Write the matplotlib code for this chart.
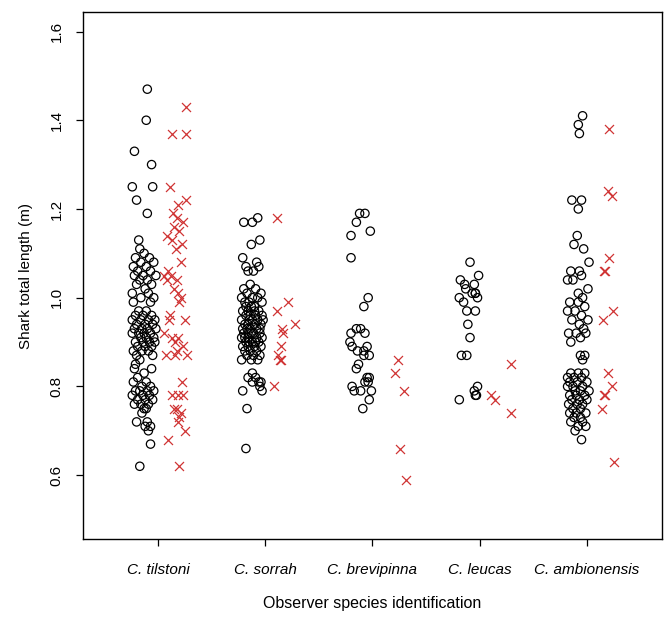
import matplotlib
matplotlib.use('Agg')
import matplotlib.pyplot as plt

#categories
species = ['C. tilstoni', 'C. sorrah', 'C. brevipinna', 'C. leucas', 'C. ambionensis']

#black circles, lengths (m) and jitter (category units)
tilstoni_black = [1.47, 1.40, 1.33, 1.30, 1.25, 1.25, 1.22, 1.19, 1.13, 1.11,
                  1.10, 1.09, 1.09, 1.08, 1.08, 1.07, 1.07, 1.06, 1.06, 1.05,
                  1.05, 1.05, 1.04, 1.04, 1.03, 1.03, 1.02, 1.01, 1.01, 1.00,
                  1.00, 0.99, 0.99, 0.97, 0.97, 0.96, 0.96, 0.96, 0.95, 0.95,
                  0.95, 0.95, 0.94, 0.94, 0.94, 0.93, 0.93, 0.93, 0.93, 0.92,
                  0.92, 0.92, 0.92, 0.91, 0.91, 0.91, 0.90, 0.90, 0.90, 0.90,
                  0.89, 0.89, 0.89, 0.88, 0.88, 0.88, 0.87, 0.87, 0.86, 0.85,
                  0.84, 0.84, 0.83, 0.82, 0.81, 0.81, 0.80, 0.80, 0.79, 0.79,
                  0.79, 0.79, 0.78, 0.78, 0.78, 0.77, 0.77, 0.77, 0.76, 0.76,
                  0.76, 0.75, 0.75, 0.74, 0.72, 0.72, 0.71, 0.71, 0.70, 0.67,
                  0.62]
tilstoni_black_dx = [-0.10, -0.11, -0.22, -0.06, -0.24, -0.05, -0.20, -0.10, -0.18, -0.17,
                     -0.13, -0.21, -0.08, -0.16, -0.04, -0.23, -0.11, -0.19, -0.07, -0.14,
                     -0.02, -0.22, -0.10, -0.17, -0.06, -0.20, -0.12, -0.24, -0.09, -0.16,
                     -0.04, -0.23, -0.07, -0.18, -0.11, -0.21, -0.14, -0.06, -0.24, -0.16,
                     -0.09, -0.03, -0.20, -0.12, -0.05, -0.22, -0.15, -0.10, -0.02, -0.18,
                     -0.13, -0.07, -0.24, -0.16, -0.11, -0.04, -0.21, -0.14, -0.08, -0.03,
                     -0.19, -0.12, -0.06, -0.23, -0.15, -0.09, -0.20, -0.05, -0.17, -0.21,
                     -0.22, -0.06, -0.13, -0.19, -0.11, -0.23, -0.15, -0.07, -0.21, -0.17,
                     -0.10, -0.04, -0.24, -0.14, -0.08, -0.19, -0.12, -0.05, -0.22, -0.16,
                     -0.09, -0.13, -0.11, -0.15, -0.20, -0.10, -0.07, -0.12, -0.09, -0.07,
                     -0.17]

sorrah_black = [1.18, 1.17, 1.17, 1.13, 1.12, 1.09, 1.08, 1.07, 1.07, 1.06,
                1.06, 1.03, 1.02, 1.02, 1.01, 1.01, 1.00, 1.00, 1.00, 0.99,
                0.99, 0.99, 0.98, 0.98, 0.97, 0.97, 0.97, 0.96, 0.96, 0.96,
                0.95, 0.95, 0.95, 0.95, 0.94, 0.94, 0.94, 0.93, 0.93, 0.93,
                0.93, 0.92, 0.92, 0.92, 0.92, 0.91, 0.91, 0.91, 0.91, 0.90,
                0.90, 0.90, 0.90, 0.89, 0.89, 0.89, 0.88, 0.88, 0.88, 0.87,
                0.87, 0.87, 0.86, 0.86, 0.86, 0.83, 0.82, 0.82, 0.81, 0.81,
                0.81, 0.79, 0.79, 0.80, 0.75, 0.66, 0.98, 0.96, 0.94, 0.93,
                0.91, 0.90, 0.89, 0.97, 0.95, 0.92]
sorrah_black_dx = [-0.07, -0.20, -0.12, -0.05, -0.13, -0.21, -0.08, -0.18, -0.06, -0.16,
                   -0.11, -0.14, -0.09, -0.20, -0.04, -0.17, -0.12, -0.22, -0.07, -0.15,
                   -0.03, -0.19, -0.10, -0.13, -0.21, -0.06, -0.16, -0.09, -0.18, -0.03,
                   -0.12, -0.22, -0.07, -0.15, -0.19, -0.10, -0.04, -0.14, -0.21, -0.08,
                   -0.17, -0.11, -0.05, -0.20, -0.13, -0.16, -0.08, -0.22, -0.03, -0.12,
                   -0.18, -0.06, -0.15, -0.21, -0.10, -0.04, -0.14, -0.19, -0.08, -0.17,
                   -0.11, -0.05, -0.22, -0.13, -0.07, -0.12, -0.09, -0.16, -0.06, -0.04,
                   -0.12, -0.21, -0.03, -0.05, -0.17, -0.18, -0.18, -0.14, -0.16, -0.05,
                   -0.19, -0.09, -0.16, -0.10, -0.02, -0.16]

brevipinna_black = [1.19, 1.19, 1.17, 1.15, 1.14, 1.09, 1.00, 0.98, 0.93, 0.93,
                    0.92, 0.92, 0.90, 0.89, 0.88, 0.89, 0.87, 0.87, 0.88, 0.85,
                    0.84, 0.82, 0.82, 0.81, 0.81, 0.80, 0.79, 0.79, 0.79, 0.77,
                    0.75]
brevipinna_black_dx = [-0.12, -0.07, -0.15, -0.02, -0.20, -0.20, -0.04, -0.08, -0.15, -0.11,
                       -0.07, -0.20, -0.21, -0.19, -0.14, -0.05, -0.08, -0.03, -0.08, -0.13,
                       -0.15, -0.05, -0.03, -0.07, -0.04, -0.19, -0.17, -0.11, -0.01, -0.03,
                       -0.09]

leucas_black = [1.08, 1.05, 1.04, 1.03, 1.02, 1.03, 1.01, 1.01, 1.01, 1.00,
                0.99, 1.00, 0.97, 0.97, 0.94, 0.91, 0.87, 0.87, 0.80, 0.79,
                0.78, 0.78, 0.77]
leucas_black_dx = [-0.09, -0.01, -0.18, -0.14, -0.13, -0.05, -0.04, -0.07, -0.04, -0.19,
                   -0.15, -0.02, -0.12, -0.04, -0.11, -0.09, -0.17, -0.12, -0.02, -0.05,
                   -0.03, -0.04, -0.19]

ambionensis_black = [1.41, 1.39, 1.37, 1.22, 1.22, 1.20, 1.14, 1.12, 1.11, 1.08,
                     1.06, 1.06, 1.05, 1.04, 1.04, 1.02, 1.01, 1.00, 0.99, 0.99,
                     0.98, 0.97, 0.97, 0.96, 0.95, 0.95, 0.94, 0.93, 0.92, 0.92,
                     0.92, 0.91, 0.90, 0.87, 0.87, 0.86, 0.83, 0.83, 0.83, 0.82,
                     0.82, 0.82, 0.81, 0.81, 0.81, 0.80, 0.80, 0.80, 0.79, 0.79,
                     0.79, 0.78, 0.78, 0.78, 0.77, 0.77, 0.77, 0.76, 0.76, 0.76,
                     0.75, 0.75, 0.74, 0.74, 0.74, 0.73, 0.73, 0.72, 0.72, 0.71,
                     0.71, 0.70, 0.68]
ambionensis_black_dx = [-0.04, -0.08, -0.07, -0.14, -0.05, -0.08, -0.09, -0.12, -0.03, 0.02,
                        -0.15, -0.07, -0.05, -0.13, -0.18, 0.01, -0.08, -0.04, -0.16, -0.08,
                        -0.02, -0.18, -0.11, -0.05, 0.01, -0.14, -0.07, -0.03, -0.17, -0.10,
                        -0.01, -0.06, -0.15, -0.06, -0.02, -0.04, -0.15, -0.08, -0.02, -0.18,
                        -0.12, -0.05, -0.16, -0.09, 0.00, -0.18, -0.13, -0.04, -0.11, -0.06,
                        0.02, -0.16, -0.10, -0.02, -0.14, -0.07, 0.00, -0.17, -0.09, -0.04,
                        -0.13, -0.06, -0.16, -0.10, -0.01, -0.12, -0.06, -0.04, -0.15, -0.08,
                        -0.01, -0.11, -0.05]

#red crosses
tilstoni_red = [1.43, 1.37, 1.37, 1.25, 1.22, 1.21, 1.19, 1.18, 1.17, 1.16,
                1.15, 1.14, 1.13, 1.12, 1.11, 1.08, 1.06, 1.05, 1.05, 1.04,
                1.04, 1.02, 1.01, 1.00, 0.99, 0.96, 0.95, 0.95, 0.92, 0.91,
                0.91, 0.90, 0.89, 0.88, 0.87, 0.87, 0.87, 0.81, 0.78, 0.78,
                0.78, 0.75, 0.75, 0.74, 0.73, 0.72, 0.70, 0.68, 0.62]
tilstoni_red_dx = [0.26, 0.13, 0.26, 0.11, 0.26, 0.19, 0.14, 0.18, 0.23, 0.15,
                   0.20, 0.08, 0.13, 0.22, 0.17, 0.21, 0.09, 0.06, 0.12, 0.18,
                   0.08, 0.15, 0.19, 0.21, 0.20, 0.11, 0.10, 0.25, 0.06, 0.13,
                   0.19, 0.16, 0.23, 0.18, 0.07, 0.16, 0.27, 0.22, 0.13, 0.19,
                   0.23, 0.15, 0.18, 0.21, 0.20, 0.19, 0.25, 0.09, 0.20]

sorrah_red = [1.18, 0.99, 0.97, 0.94, 0.93, 0.92, 0.89, 0.87, 0.86, 0.86, 0.80]
sorrah_red_dx = [0.11, 0.21, 0.11, 0.28, 0.16, 0.17, 0.15, 0.12, 0.14, 0.15, 0.08]

brevipinna_red = [0.86, 0.83, 0.79, 0.66, 0.59]
brevipinna_red_dx = [0.24, 0.21, 0.29, 0.26, 0.31]

leucas_red = [0.85, 0.78, 0.77, 0.74]
leucas_red_dx = [0.29, 0.11, 0.14, 0.29]

ambionensis_red = [1.38, 1.24, 1.23, 1.09, 1.06, 1.06, 0.97, 0.95, 0.83, 0.80,
                   0.78, 0.78, 0.75, 0.63]
ambionensis_red_dx = [0.21, 0.20, 0.23, 0.21, 0.16, 0.17, 0.24, 0.15, 0.20, 0.23,
                      0.16, 0.17, 0.14, 0.25]

black = [tilstoni_black, sorrah_black, brevipinna_black, leucas_black, ambionensis_black]
black_dx = [tilstoni_black_dx, sorrah_black_dx, brevipinna_black_dx, leucas_black_dx, ambionensis_black_dx]
red = [tilstoni_red, sorrah_red, brevipinna_red, leucas_red, ambionensis_red]
red_dx = [tilstoni_red_dx, sorrah_red_dx, brevipinna_red_dx, leucas_red_dx, ambionensis_red_dx]

plt.rcParams['font.family'] = ['Liberation Sans', 'DejaVu Sans']

fig = plt.figure(figsize=(6.67, 6.21), dpi=100)
ax = fig.add_axes([0.1244, 0.132, 0.868, 0.8487])

#stripchart: circles left of the tick, crosses right
for i in range(len(species)):
    xs = [i + 1 + d for d in black_dx[i]]
    ax.scatter(xs, black[i], s=36, facecolors='none', edgecolors='black', linewidths=0.9, zorder=2)
    xr = [i + 1 + d for d in red_dx[i]]
    ax.scatter(xr, red[i], s=42, marker='x', color='#d03434', linewidths=0.9, zorder=3)

ax.set_xlim(0.3, 5.7)
ax.set_ylim(0.456, 1.644)
ax.set_xticks(range(1, 6))
ax.set_xticklabels(species, fontstyle='italic', fontsize=11)
ax.set_yticks([0.6, 0.8, 1.0, 1.2, 1.4, 1.6])
ax.set_yticklabels(['0.6', '0.8', '1.0', '1.2', '1.4', '1.6'], rotation=90, va='center', fontsize=11)
ax.tick_params(axis='both', direction='out', length=5, width=0.9)
ax.tick_params(axis='x', pad=12)
ax.tick_params(axis='y', pad=9)
for s in ax.spines.values():
    s.set_linewidth(1.0)

ax.set_xlabel('Observer species identification', fontsize=11.5, labelpad=14)
ax.set_ylabel('Shark total length (m)', fontsize=11, labelpad=12)

fig.savefig('out.png', dpi=100)
